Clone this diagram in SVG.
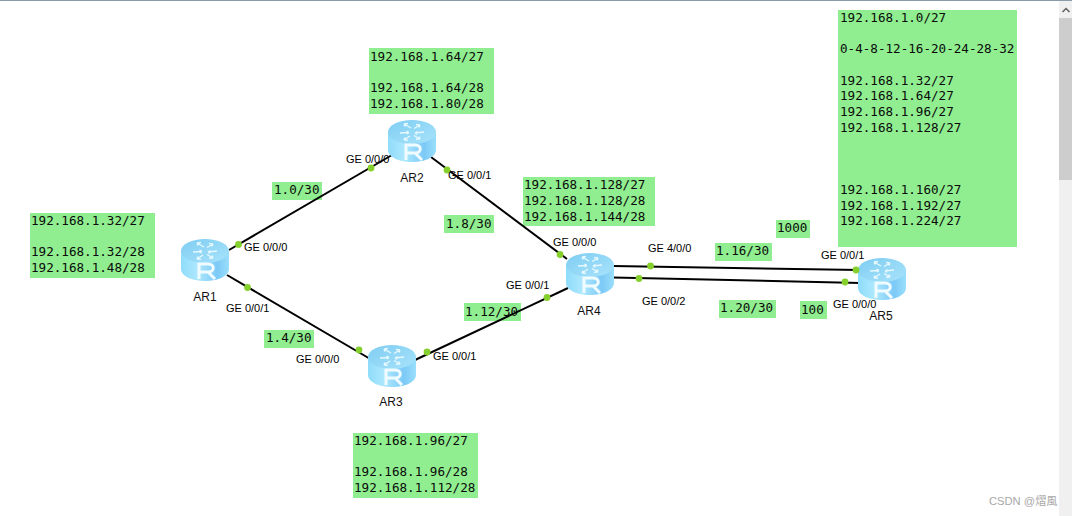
<svg xmlns="http://www.w3.org/2000/svg" width="1072" height="516" viewBox="0 0 1072 516">
<style>
.box{fill:#90ee90}
.m{font-family:"DejaVu Sans Mono","Liberation Mono",monospace;font-size:12.6px;fill:#0a0a0a}
.l{font-family:"Liberation Sans",Arial,sans-serif;font-size:11px;fill:#000}
.n{font-family:"Liberation Sans",Arial,sans-serif;font-size:12px;fill:#111}
.c line{stroke:#000;stroke-width:2}
.d{fill:#86d02e}
.a{fill:none;stroke:#e6f8ff;stroke-width:1.400}
</style>
<defs>
<linearGradient id="side" x1="0" x2="1" y1="0" y2="0"><stop offset="0" stop-color="#8fdcfb"/><stop offset=".35" stop-color="#aee8fd"/><stop offset=".75" stop-color="#7cc9f7"/><stop offset="1" stop-color="#9adffb"/></linearGradient>
<linearGradient id="top" x1="0" x2="1" y1="0" y2="1"><stop offset="0" stop-color="#7fcdf2"/><stop offset="1" stop-color="#a8e3fb"/></linearGradient>
<g id="router">
<path d="M-24 -9V9C-24 16 -13 21 0 21S24 16 24 9V-9Z" fill="url(#side)"/>
<ellipse cx="0" cy="-9" rx="24" ry="12" fill="url(#top)"/>
<g class="a">
<path d="M-8 -17L-1 -13M-8 -17l4 -.5M-8 -17l1 2.500"/>
<path d="M8 -16L2 -12.500M8 -16l-4 -.5M8 -16l-1 2.500"/>
<path d="M-12 -8L-3 -8.500M-3 -8.500l-2.500 -1.500M-3 -8.500l-2 1.500"/>
<path d="M12 -9L3 -8M3 -8l2.500 -1.500M3 -8l2 1.500"/>
<path d="M-8 -1L-2 -5M-8 -1l4 .3M-8 -1l1 -2.500"/>
<path d="M8 -2L2 -5.500M8 -2l-4 .3M8 -2l-1 -2.500"/>
</g>
<path d="M-6 19V4H3C10 4 10 12 3 12H-6M3 12L10 19" fill="none" stroke="#f0fbff" stroke-width="3"/>
</g>
</defs>
<rect width="1072" height="516" fill="#fff"/>
<rect width="1072" height="1" fill="#8a9aa8"/>
<rect x="1059" y="1" width="13" height="515" fill="#f0f0f0"/>
<rect x="1059" y="18" width="13" height="162" fill="#cdcdcd"/>
<path d="M1062.500 12L1066 8.500L1069.500 12" fill="none" stroke="#606060" stroke-width="1.500"/>

<g id="labels">
<g id="net-ar2"><rect class="box" x="369" y="48" width="125" height="66"/>
<text class="m" x="370" y="61">192.168.1.64/27</text><text class="m" x="370" y="92">192.168.1.64/28</text><text class="m" x="370" y="108">192.168.1.80/28</text></g>
<g id="net-ar1"><rect class="box" x="30" y="213" width="125" height="65"/>
<text class="m" x="31" y="225">192.168.1.32/27</text><text class="m" x="31" y="256">192.168.1.32/28</text><text class="m" x="31" y="272">192.168.1.48/28</text></g>
<g id="net-ar4"><rect class="box" x="523" y="177" width="132" height="49"/>
<text class="m" x="524" y="189">192.168.1.128/27</text><text class="m" x="524" y="205">192.168.1.128/28</text><text class="m" x="524" y="221">192.168.1.144/28</text></g>
<g id="net-ar3"><rect class="box" x="353" y="433" width="125" height="65"/>
<text class="m" x="354" y="445">192.168.1.96/27</text><text class="m" x="354" y="476">192.168.1.96/28</text><text class="m" x="354" y="492">192.168.1.112/28</text></g>
<g id="net-all"><rect class="box" x="838" y="10" width="179" height="237"/>
<text class="m" x="840" y="22">192.168.1.0/27</text><text class="m" x="840" y="53">0-4-8-12-16-20-24-28-32</text>
<text class="m" x="840" y="85">192.168.1.32/27</text><text class="m" x="840" y="100">192.168.1.64/27</text><text class="m" x="840" y="116">192.168.1.96/27</text><text class="m" x="840" y="132">192.168.1.128/27</text>
<text class="m" x="840" y="194">192.168.1.160/27</text><text class="m" x="840" y="210">192.168.1.192/27</text><text class="m" x="840" y="225">192.168.1.224/27</text></g>
<rect class="box" x="272" y="182" width="50" height="18"/><text class="m" x="274" y="194">1.0/30</text>
<rect class="box" x="264" y="330" width="50" height="18"/><text class="m" x="266" y="342">1.4/30</text>
<rect class="box" x="444" y="215" width="50" height="18"/><text class="m" x="446" y="228">1.8/30</text>
<rect class="box" x="464" y="303" width="57" height="18"/><text class="m" x="465" y="316">1.12/30</text>
<rect class="box" x="715" y="243" width="57" height="18"/><text class="m" x="716" y="255">1.16/30</text>
<rect class="box" x="719" y="300" width="57" height="18"/><text class="m" x="720" y="312">1.20/30</text>
<rect class="box" x="776" y="220" width="34" height="18"/><text class="m" x="777" y="232">1000</text>
<rect class="box" x="800" y="301" width="27" height="18"/><text class="m" x="801" y="314">100</text>
</g>

<g id="connectors" class="c">
<line x1="229" y1="250" x2="392" y2="155"/>
<line x1="227" y1="275" x2="372" y2="360"/>
<line x1="431" y1="157" x2="567" y2="259"/>
<line x1="415" y1="360" x2="568" y2="288"/>
<line x1="613" y1="266" x2="860" y2="270"/>
<line x1="613" y1="277.500" x2="860" y2="283"/>
</g>

<g id="AR1"><use href="#router" x="205" y="260"/><text class="n" x="205" y="301" text-anchor="middle">AR1</text></g>
<g id="AR2"><use href="#router" x="412" y="141"/><text class="n" x="412" y="182" text-anchor="middle">AR2</text></g>
<g id="AR3"><use href="#router" x="392" y="366"/><text class="n" x="391" y="406" text-anchor="middle">AR3</text></g>
<g id="AR4"><use href="#router" x="590" y="274"/><text class="n" x="589" y="315" text-anchor="middle">AR4</text></g>
<g id="AR5"><use href="#router" x="882" y="279"/><text class="n" x="881" y="320" text-anchor="middle">AR5</text></g>

<g id="ports">
<circle class="d" cx="238.500" cy="244.500" r="3.400"/><text class="l" x="244" y="251">GE 0/0/0</text>
<circle class="d" cx="371" cy="168" r="3.400"/><text class="l" x="346" y="163">GE 0/0/0</text>
<circle class="d" cx="247.500" cy="287.500" r="3.400"/><text class="l" x="226" y="312">GE 0/0/1</text>
<circle class="d" cx="359" cy="350" r="3.400"/><text class="l" x="296" y="363">GE 0/0/0</text>
<circle class="d" cx="427" cy="352" r="3.400"/><text class="l" x="433" y="360">GE 0/0/1</text>
<circle class="d" cx="447" cy="170" r="3.400"/><text class="l" x="448" y="179">GE 0/0/1</text>
<circle class="d" cx="560" cy="254.500" r="3.400"/><text class="l" x="553" y="246">GE 0/0/0</text>
<circle class="d" cx="547" cy="297.500" r="3.400"/><text class="l" x="506" y="289">GE 0/0/1</text>
<circle class="d" cx="650.500" cy="266" r="3.400"/><text class="l" x="648" y="252">GE 4/0/0</text>
<circle class="d" cx="639" cy="278.500" r="3.400"/><text class="l" x="642" y="305">GE 0/0/2</text>
<circle class="d" cx="856" cy="270" r="3.400"/><text class="l" x="821" y="259">GE 0/0/1</text>
<circle class="d" cx="845" cy="282" r="3.400"/><text class="l" x="833" y="308">GE 0/0/0</text>
</g>

<text x="989" y="505" font-family="'Liberation Sans','Noto Sans CJK SC',sans-serif" font-size="11.200" fill="#a8a8a8">CSDN @熠風</text>
</svg>
